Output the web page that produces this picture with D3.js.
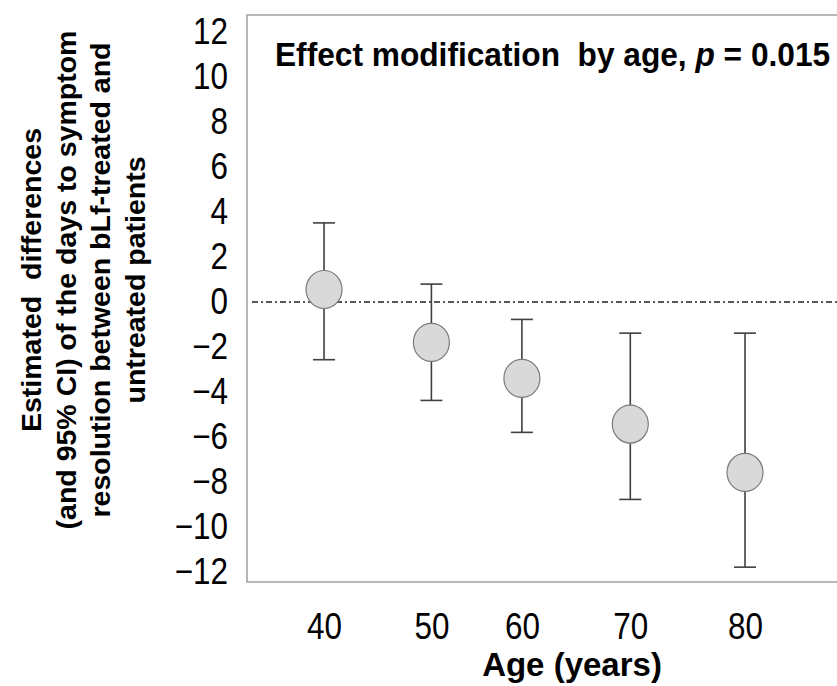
<!DOCTYPE html>
<html><head><meta charset="utf-8">
<script src="https://cdn.jsdelivr.net/npm/d3@7"></script>
<style>html,body{margin:0;padding:0;background:#fff;} svg{display:block;}</style>
</head><body><svg id="c" width="837" height="686"></svg>
<script>
// ---- data ----
const ageLabels = ["40", "50", "60", "70", "80"];
const agePositions = [40, 50.2, 58.8, 69.1, 80];
const estimates = [0.56, -1.79, -3.39, -5.42, -7.57];
const ciLower = [-2.56, -4.37, -5.79, -8.77, -11.78];
const ciUpper = [3.52, 0.80, -0.77, -1.38, -1.38];
const yTickValues = [12, 10, 8, 6, 4, 2, 0, -2, -4, -6, -8, -10, -12];
const yTitleLines = ["Estimated  differences", "(and 95% CI) of the days to symptom", "resolution between bLf-treated and", "untreated patients"];
const xTitle = "Age (years)";

// ---- layout ----
const svg = d3.select("#c");
const L = 247, R = 845, T = 15, B = 582;
const x = d3.scaleLinear().domain([32.68, 89.5]).range([L, R]);
const y = d3.scaleLinear().domain([-12.44, 12.76]).range([B, T]);
const FONT = "'Liberation Sans', Arial, Helvetica, sans-serif";

// frame
svg.append("rect").attr("x", L).attr("y", T).attr("width", R - L).attr("height", B - T)
  .attr("fill", "none").attr("stroke", "#a0a0a0").attr("stroke-width", 1.5);

// reference line at 0
svg.append("line").attr("x1", L + 5).attr("x2", 837).attr("y1", y(0)).attr("y2", y(0))
  .attr("stroke", "#222").attr("stroke-width", 1.5).attr("stroke-dasharray", "6,3,2,3");

// y axis
const gy = svg.append("g").attr("transform", `translate(${L},0)`)
  .call(d3.axisLeft(y).tickValues(yTickValues).tickSize(0).tickPadding(19));
gy.select(".domain").remove();
gy.selectAll("text").each(function () {
  const t = d3.select(this); const tx = +t.attr("x");
  t.attr("x", 0).attr("transform", `translate(${tx},0) scale(0.85,1)`);
}).attr("font-size", 37).attr("font-family", FONT).attr("fill", "#000");

// x axis
const gx = svg.append("g").attr("transform", `translate(0,${B})`)
  .call(d3.axisBottom(x).tickValues(agePositions).tickFormat((d, i) => ageLabels[i]).tickSize(0).tickPadding(31));
gx.select(".domain").remove();
gx.selectAll("text").each(function () {
  const t = d3.select(this); const ty = +t.attr("y");
  t.attr("y", 0).attr("transform", `translate(0,${ty}) scale(0.85,1)`);
}).attr("font-size", 37).attr("font-family", FONT).attr("fill", "#000");

// error bars and points
const data = agePositions.map((a, i) => ({ a, est: estimates[i], lo: ciLower[i], hi: ciUpper[i] }));
const g = svg.append("g");
const bars = g.selectAll(".bar").data(data).join("g");
bars.append("line").attr("x1", d => x(d.a)).attr("x2", d => x(d.a))
  .attr("y1", d => y(d.hi)).attr("y2", d => y(d.lo)).attr("stroke", "#404040").attr("stroke-width", 1.6);
bars.append("line").attr("x1", d => x(d.a) - 11).attr("x2", d => x(d.a) + 11)
  .attr("y1", d => y(d.hi)).attr("y2", d => y(d.hi)).attr("stroke", "#404040").attr("stroke-width", 1.6);
bars.append("line").attr("x1", d => x(d.a) - 11).attr("x2", d => x(d.a) + 11)
  .attr("y1", d => y(d.lo)).attr("y2", d => y(d.lo)).attr("stroke", "#404040").attr("stroke-width", 1.6);
bars.append("ellipse").attr("cx", d => x(d.a)).attr("cy", d => y(d.est)).attr("rx", 18).attr("ry", 19)
  .attr("fill", "#d9d9d9").attr("stroke", "#7a7a7a").attr("stroke-width", 1.2);

// title
const title = svg.append("text").attr("transform", "translate(275,66) scale(0.96,1)")
  .attr("font-family", FONT).attr("font-weight", "bold").attr("font-size", 33).attr("fill", "#000")
  .attr("xml:space", "preserve").style("white-space", "pre");
title.append("tspan").text("Effect modification  by age, ");
title.append("tspan").attr("font-style", "italic").text("p");
title.append("tspan").text(" = 0.015");

// x title
svg.append("text").attr("x", 572).attr("y", 676).attr("text-anchor", "middle")
  .attr("font-family", FONT).attr("font-weight", "bold").attr("font-size", 33).attr("fill", "#000")
  .text(xTitle);

// y title
const yt = svg.append("text").attr("transform", "translate(0,280) rotate(-90)")
  .attr("text-anchor", "middle").attr("font-family", FONT).attr("font-weight", "bold")
  .attr("font-size", 28.5).attr("fill", "#000").style("white-space", "pre");
yTitleLines.forEach((s, i) => yt.append("tspan").attr("x", 0).attr("y", 41 + i * 34.5).text(s));
</script></body></html>
